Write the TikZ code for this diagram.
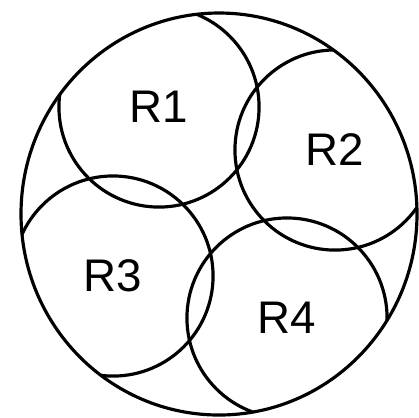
\documentclass[tikz,border=0pt]{standalone}
\usepackage{fontspec}
\setmainfont{Liberation Sans}
\tikzset{
	region/.style = {circle, draw, line width = 0.9pt, minimum size = 2cm, inner sep = 0pt, font = \fontsize{13}{15}\selectfont}
}
\begin{document}
\begin{tikzpicture}[x = 0.01cm, y = -0.01cm, line width = 0.9pt]
\useasboundingbox (0,0) rectangle (419,417);
\draw (219,214) ellipse [x radius = 198, y radius = 201];
\begin{scope}
	\clip (219,214) ellipse [x radius = 198, y radius = 201];
	\node[region] (r1) at (159,107) {R1};
	\node[region] (r2) at (335,150) {R2};
	\node[region] (r3) at (113,276) {R3};
	\node[region] (r4) at (287,318) {R4};
\end{scope}
\end{tikzpicture}
\end{document}
